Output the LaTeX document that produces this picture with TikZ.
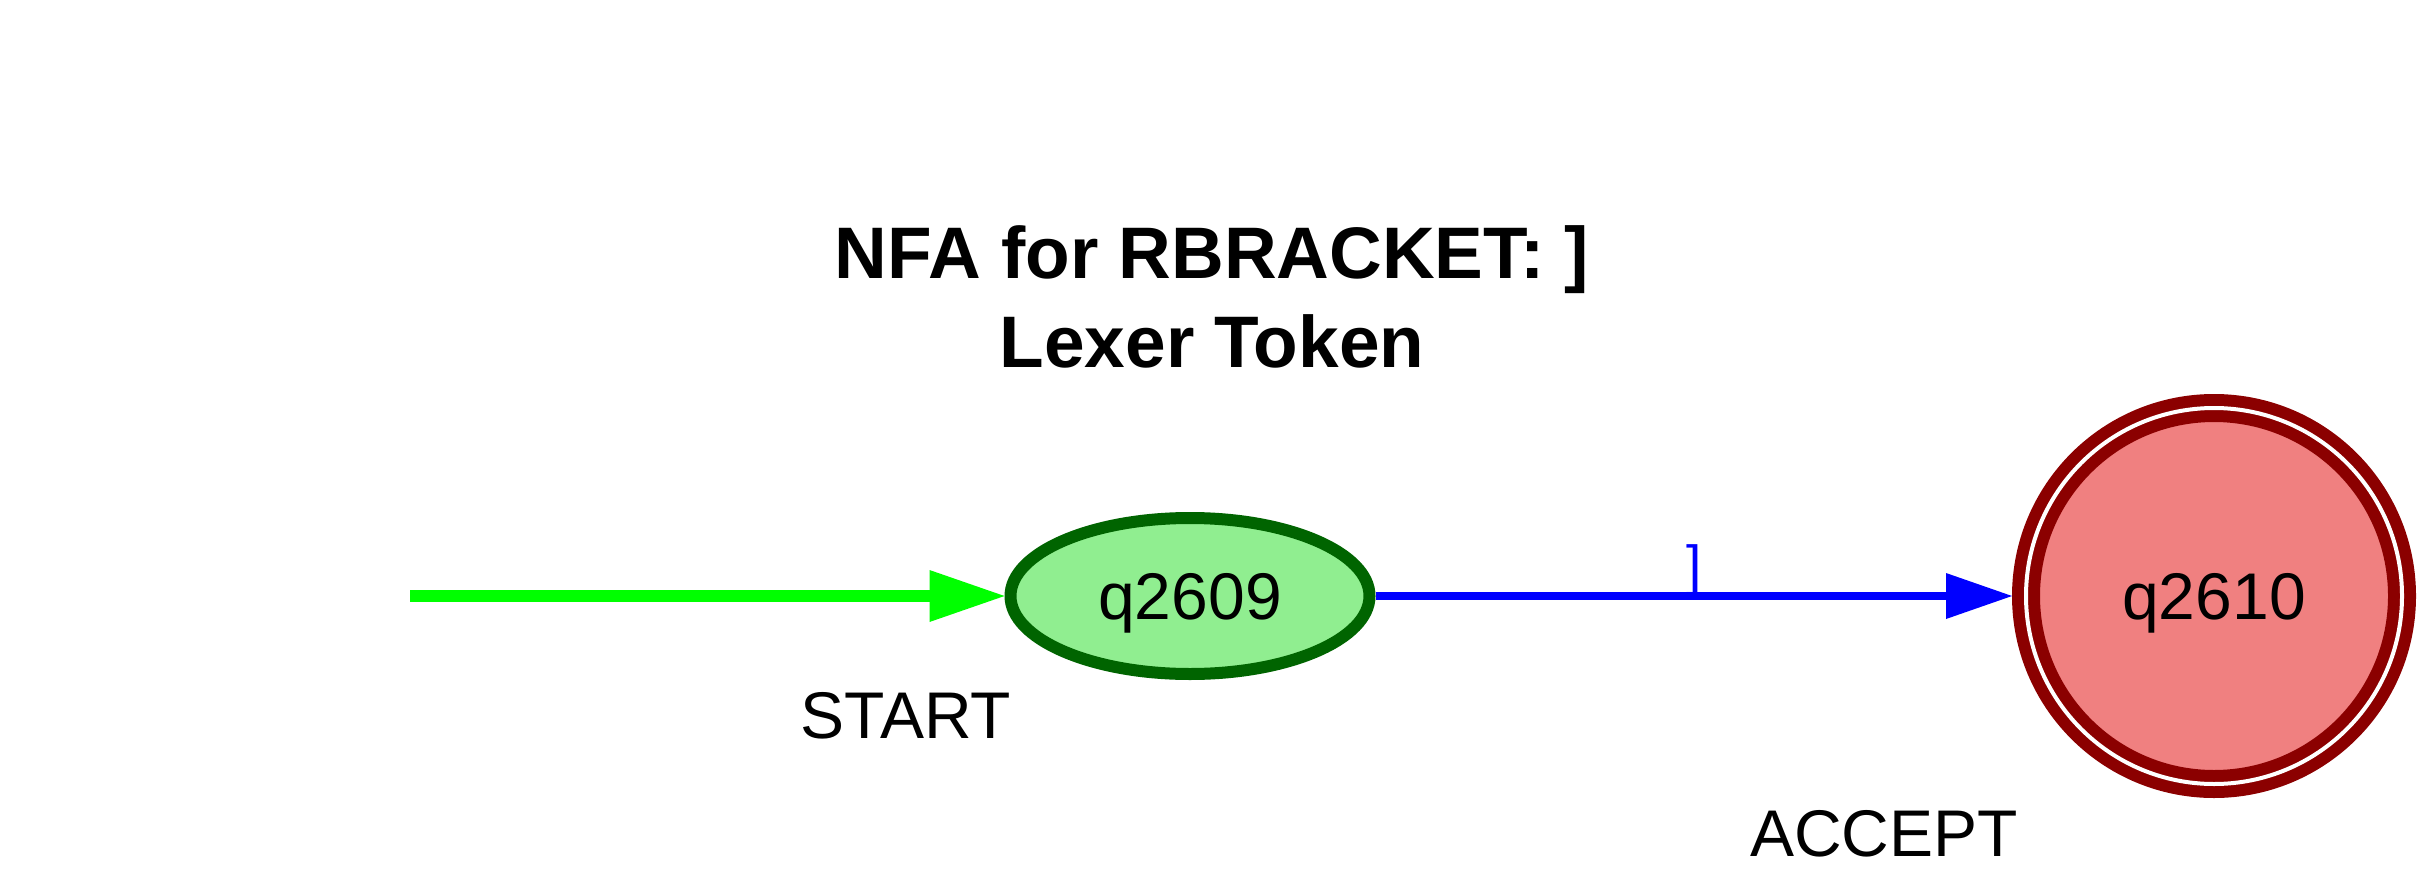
\documentclass[tikz,border=0pt]{standalone}
\usepackage{fontspec}
\setmainfont{Liberation Sans}
\usetikzlibrary{arrows.meta,shapes.geometric}
\definecolor{startgreen}{HTML}{00FF00}
\definecolor{stategreen}{HTML}{90EE90}
\definecolor{borderdkgreen}{HTML}{006400}
\definecolor{edgeblue}{HTML}{0000FF}
\definecolor{acceptfill}{HTML}{F08080}
\definecolor{acceptborder}{HTML}{8B0000}
\begin{document}
\begin{tikzpicture}[x=1pt,y=-1pt,
  every node/.style={inner sep=0pt},
  lbl/.style={font=\fontsize{66}{79}\selectfont, anchor=base},
  ttl/.style={font=\fontsize{73}{88}\selectfont\bfseries, anchor=base},
  startstate/.style={ellipse, draw=borderdkgreen, fill=stategreen, line width=12pt,
    minimum width=359pt, minimum height=156pt, text depth=0pt,
    font=\fontsize{66}{79}\selectfont},
  acceptstate/.style={circle, draw=acceptborder, fill=acceptfill, line width=12pt,
    double=white, double distance=4pt, outer sep=14pt,
    minimum size=376pt, text depth=0pt, font=\fontsize{66}{79}\selectfont},
  startarrow/.style={draw=startgreen, line width=12pt,
    -{Triangle[length=75pt,width=52pt,line width=0pt]}},
  edgearrow/.style={draw=edgeblue, line width=8pt,
    -{Triangle[length=66pt,width=46pt,line width=0pt]}},
  edgelbl/.style={text=edgeblue, font=\fontsize{55}{66}\selectfont, anchor=base}
]
\useasboundingbox (0,0) rectangle (2427,888);
\node[ttl] (title1) at (1212,278) {NFA for RBRACKET: ]};
\node[ttl] (title2) at (1212,367) {Lexer Token};
\coordinate (init) at (410,596);
\node[startstate] (q2609) at (1190,596) {q2609};
\node[acceptstate] (q2610) at (2214,596) {q2610};
\draw[startarrow] (init) -- (q2609.west);
\draw[edgearrow] (q2609.east) -- (q2610.west)
  node[edgelbl, midway, yshift=12pt] (lblr) {]};
\node[lbl] (startlbl) at (906,738) {START};
\node[lbl] (acceptlbl) at (1884,856) {ACCEPT};
\end{tikzpicture}
\end{document}
